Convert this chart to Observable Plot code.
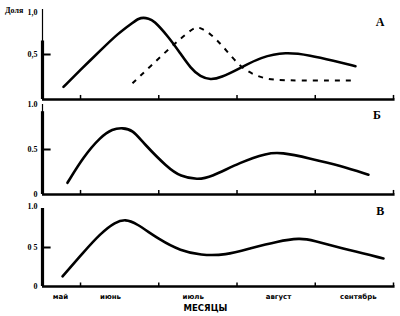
<!DOCTYPE html>
<html><head><meta charset="utf-8">
<script src="https://cdn.jsdelivr.net/npm/d3@7"></script>
<script src="https://cdn.jsdelivr.net/npm/@observablehq/plot@0.6"></script>
<style>
body{margin:0;background:#fff}
#chart{position:relative;width:400px;height:316px}
#chart svg{position:absolute;left:0;top:0;background:transparent}
</style>
</head><body><div id="chart"></div>
<script>
// month labels (centered between month-boundary ticks)
const monthLabels = ["май", "июнь", "июль", "август", "сентябрь"];
const monthLabelX = [0.744, 1.383, 2.44, 3.53, 4.55];
const monthTicks = [1, 2, 3, 4, 5];
const xStart = 0.514, xEnd = 5;

// Panel А, solid curve
const aSolidX = [0.782, 1.0, 1.255, 1.473, 1.677, 1.741, 1.805, 1.869, 1.933, 2.111, 2.278, 2.405, 2.533, 2.661, 2.789, 3.044, 3.300, 3.620, 3.939, 4.233, 4.514];
const aSolidY = [0.14, 0.33, 0.545, 0.73, 0.86, 0.90, 0.91, 0.90, 0.88, 0.71, 0.51, 0.35, 0.25, 0.22, 0.24, 0.35, 0.47, 0.53, 0.49, 0.43, 0.37];
// Panel А, dashed curve
const aDashX = [1.664, 1.894, 2.150, 2.405, 2.470, 2.533, 2.661, 2.814, 3.019, 3.198, 3.364, 3.556, 4.476];
const aDashY = [0.18, 0.37, 0.58, 0.77, 0.80, 0.80, 0.73, 0.60, 0.38, 0.28, 0.23, 0.21, 0.21];
// Panel Б
const bX = [0.833, 1.038, 1.255, 1.409, 1.537, 1.664, 1.805, 2.111, 2.278, 2.495, 2.661, 3.044, 3.389, 3.556, 3.939, 4.322, 4.680];
const bY = [0.13, 0.42, 0.64, 0.73, 0.74, 0.72, 0.57, 0.30, 0.20, 0.165, 0.19, 0.36, 0.46, 0.47, 0.40, 0.32, 0.22];
// Panel В
const cX = [0.770, 1.038, 1.255, 1.447, 1.575, 1.700, 2.022, 2.278, 2.533, 2.853, 3.172, 3.517, 3.811, 3.939, 4.450, 4.872];
const cY = [0.13, 0.44, 0.68, 0.83, 0.86, 0.82, 0.59, 0.46, 0.40, 0.40, 0.49, 0.58, 0.62, 0.60, 0.46, 0.36];

const zip = (xs, ys) => xs.map((x, i) => ({x, y: ys[i]}));
const serif = "Liberation Serif, DejaVu Serif, serif";

function panel({top, bottom, lines, yLabels, letter, letterPos, thickFrom, bottomAxis}) {
  const marks = [
    Plot.ruleY([0], {x1: xStart, x2: xEnd + 0.02, strokeWidth: 2.5}),
    Plot.ruleX(monthTicks, {y1: 0, y2: 0.045, strokeWidth: 1.5}),
    Plot.ruleX([xStart], {y1: 0, y2: 1, strokeWidth: 1.2}),
    Plot.ruleX([xStart], {y1: 0, y2: thickFrom, strokeWidth: 3.2}),
    Plot.ruleY([0.5], {x1: xStart, x2: xStart + 0.11, strokeWidth: 2}),
    Plot.text(yLabels, {x: xStart, y: d => d.v, text: d => d.t, dx: -5, textAnchor: "end",
      fontFamily: serif, fontWeight: "bold", fontSize: 8}),
    Plot.text([letter], {x: letterPos[0], y: letterPos[1], text: d => d, fontFamily: serif, fontSize: 12, fontWeight: "bold"}),
    ...lines
  ];
  if (bottomAxis) {
    marks.push(Plot.text(monthLabels, {x: (d, i) => monthLabelX[i], y: 0, dy: 10, text: d => d,
      fontFamily: "DejaVu Sans, sans-serif", fontWeight: "bold", fontSize: 7}));
    marks.push(Plot.text(["МЕСЯЦЫ"], {x: 2.597, y: 0, dy: 22, text: d => d,
      fontFamily: "DejaVu Sans, sans-serif", fontWeight: "bold", fontSize: 8.5}));
  }
  return Plot.plot({
    width: 400, height: 316,
    marginLeft: 42, marginRight: 7, marginTop: top, marginBottom: 316 - bottom,
    x: {domain: [xStart, xEnd], axis: null},
    y: {domain: [0, 1], axis: null},
    style: {background: "transparent", color: "#000"},
    marks
  });
}

const solid = {x: "x", y: "y", curve: "basis", strokeWidth: 2.6, stroke: "#000"};

const chart = document.getElementById("chart");
chart.append(panel({
  top: 9, bottom: 99,
  lines: [
    Plot.line(zip(aSolidX, aSolidY), solid),
    Plot.line(zip(aDashX, aDashY), {x: "x", y: "y", curve: "basis", strokeWidth: 2, stroke: "#000", strokeDasharray: "5,6", strokeLinecap: "butt"})
  ],
  yLabels: [{v: 0.5, t: "0,5"}, {v: 0.97, t: "1,0"}],
  letter: "А", letterPos: [4.83, 0.86], thickFrom: 0.65
}));
chart.append(panel({
  top: 104, bottom: 194,
  lines: [Plot.line(zip(bX, bY), solid)],
  yLabels: [{v: 1, t: "1.0"}, {v: 0.5, t: "0.5"}, {v: 0, t: "0"}],
  letter: "Б", letterPos: [4.79, 0.88], thickFrom: 0.92
}));
chart.append(panel({
  top: 208, bottom: 286,
  lines: [Plot.line(zip(cX, cY), solid)],
  yLabels: [{v: 1.03, t: "1.0"}, {v: 0.5, t: "0 5"}, {v: 0, t: "0"}],
  letter: "В", letterPos: [4.83, 0.97], thickFrom: 1.0, bottomAxis: true
}));
// "Доля" caption
const cap = document.createElement("div");
cap.textContent = "Доля";
cap.style.cssText = "position:absolute;left:5px;top:6px;font:bold 8px 'Liberation Serif',serif;";
chart.append(cap);
</script>
</body></html>
